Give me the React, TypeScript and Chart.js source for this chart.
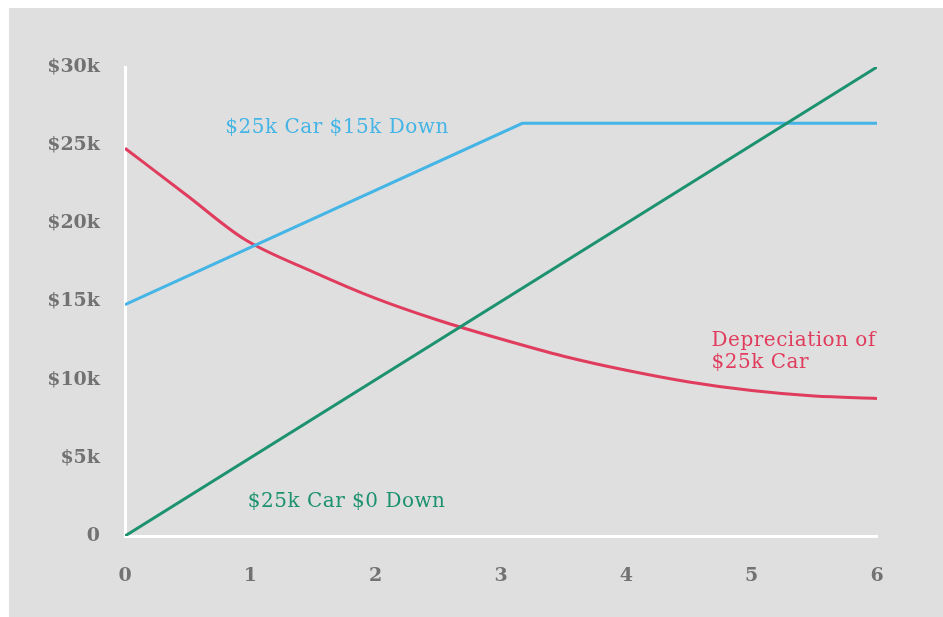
import React, { useEffect, useRef } from "react";
import { Chart, registerables } from "chart.js";

Chart.register(...registerables);

// ---- data ----
const greenX = [0, 6];
const greenY = [0, 30000];

const blueX = [0, 3.17, 6];
const blueY = [14800, 26400, 26400];

const redX = [0, 0.5, 0.95, 1.5, 2, 2.5, 3, 3.5, 4, 4.5, 5, 5.5, 6];
const redY = [24800, 21750, 19000, 16900, 15200, 13800, 12600, 11500, 10600, 9850, 9300, 8950, 8800];

const xTicks = [0, 1, 2, 3, 4, 5, 6];
const yTickValues = [0, 5000, 10000, 15000, 20000, 25000, 30000];

const labelTexts = ["$25k Car $15k Down", "Depreciation of", "$25k Car", "$25k Car $0 Down"];
const labelX = [0.8, 4.68, 4.68, 0.98];
const labelY = [26100, 12500, 11050, 2200];

const BLUE = "#45b5e6";
const RED = "#e03d5e";
const GREEN = "#1d9270";
const labelColors = [BLUE, RED, RED, GREEN];

const toPts = (xs: number[], ys: number[]) => xs.map((x, i) => ({ x, y: ys[i] }));

const textPlugin = {
  id: "annoText",
  afterDatasetsDraw(chart: any) {
    const { ctx, scales } = chart;
    ctx.save();
    ctx.font = '20px "DejaVu Serif"';
    try {
      (ctx as any).letterSpacing = "0.5px";
    } catch (e) {}
    ctx.textAlign = "left";
    ctx.textBaseline = "middle";
    labelTexts.forEach((t, i) => {
      ctx.fillStyle = labelColors[i];
      ctx.fillText(t, scales.x.getPixelForValue(labelX[i]), scales.y.getPixelForValue(labelY[i]));
    });
    ctx.restore();
  },
};

export default function App() {
  const ref = useRef<HTMLCanvasElement>(null);
  useEffect(() => {
    document.body.style.overflow = "hidden";
    const chart = new Chart(ref.current!, {
      type: "line",
      data: {
        datasets: [
          {
            data: toPts(greenX, greenY),
            borderColor: GREEN,
            borderWidth: 3,
            pointRadius: 0,
            tension: 0,
          },
          {
            data: toPts(blueX, blueY),
            borderColor: BLUE,
            borderWidth: 3,
            pointRadius: 0,
            tension: 0,
          },
          {
            data: toPts(redX, redY),
            borderColor: RED,
            borderWidth: 3,
            pointRadius: 0,
            cubicInterpolationMode: "monotone",
          },
        ],
      },
      options: {
        animation: false,
        responsive: true,
        maintainAspectRatio: false,
        layout: { padding: { top: 59, right: 66, bottom: 0, left: 0 } },
        plugins: { legend: { display: false }, tooltip: { enabled: false } },
        scales: {
          x: {
            type: "linear",
            min: 0,
            max: 6,
            afterBuildTicks: (axis: any) => {
              axis.ticks = xTicks.map((v) => ({ value: v }));
            },
            afterFit: (axis: any) => {
              axis.height = 81;
            },
            grid: { display: false, drawTicks: false },
            border: { display: true, color: "#ffffff", width: 3 },
            ticks: {
              padding: 29,
              color: "#727272",
              font: { family: "DejaVu Serif", size: 19, weight: "bold" },
              callback: (v: any) => String(v),
            },
          },
          y: {
            min: 0,
            max: 30000,
            afterBuildTicks: (axis: any) => {
              axis.ticks = yTickValues.map((v) => ({ value: v }));
            },
            afterFit: (axis: any) => {
              axis.width = 116;
            },
            grid: { display: false, drawTicks: false },
            border: { display: true, color: "#ffffff", width: 3 },
            ticks: {
              padding: 25,
              color: "#727272",
              font: { family: "DejaVu Serif", size: 19, weight: "bold" },
              callback: (v: any) => (v === 0 ? "0" : "$" + v / 1000 + "k"),
            },
          },
        },
      },
      plugins: [textPlugin],
    });
    return () => chart.destroy();
  }, []);
  return (
    <div
      style={{
        position: "fixed",
        left: 9,
        top: 8,
        width: 934,
        height: 609,
        background: "#dfdfdf",
      }}
    >
      <canvas ref={ref} />
    </div>
  );
}
